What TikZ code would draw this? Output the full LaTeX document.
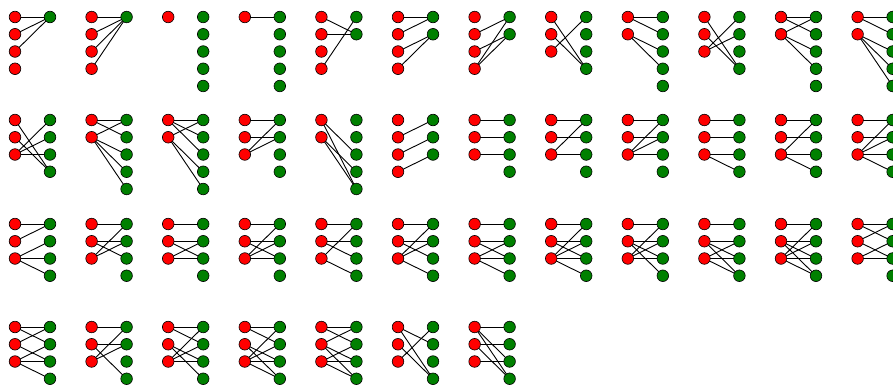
\documentclass[tikz,border=0pt]{standalone}
\usetikzlibrary{backgrounds}
\definecolor{nxred}{RGB}{255,0,0}
\definecolor{nxgreen}{RGB}{0,128,0}
\tikzset{
  rn/.style={circle,draw=black,fill=nxred,minimum size=11.6pt,inner sep=0pt,line width=0.6pt},
  gn/.style={circle,draw=black,fill=nxgreen,minimum size=11.6pt,inner sep=0pt,line width=0.6pt},
  ed/.style={draw=black,line width=0.9pt}
}
% #1 column, #2 row id, #3 top y, #4 number of red, #5 number of green, #6 edges red/green
\newcommand\bgraph[6]{%
  \foreach \i in {1,...,#4}
    \node[rn] (g#1x#2r\i) at ({15+76.6*#1},{#3+17.25*(\i-1)}) {};
  \foreach \j in {1,...,#5}
    \node[gn] (g#1x#2g\j) at ({50+76.6*#1},{#3+17.25*(\j-1)}) {};
  \ifx\relax#6\relax\else
  \begin{pgfonlayer}{background}
    \foreach \a/\b in {#6}
      \draw[ed] (g#1x#2r\a.center) -- (g#1x#2g\b.center);
  \end{pgfonlayer}
  \fi
}
\begin{document}
\begin{tikzpicture}[x=1pt,y=-1pt]
\useasboundingbox (0,0) rectangle (893,386);
% row 1
\bgraph{0}{a}{17}{4}{1}{1/1,2/1,3/1}
\bgraph{1}{a}{17}{4}{1}{1/1,2/1,3/1,4/1}
\bgraph{2}{a}{17}{1}{5}{}
\bgraph{3}{a}{17}{1}{5}{1/1}
\bgraph{4}{a}{17}{4}{2}{1/2,2/2,4/1}
\bgraph{5}{a}{17}{4}{2}{1/1,2/1,3/2,4/2}
\bgraph{6}{a}{17}{4}{2}{2/1,3/2,4/1,4/2}
\bgraph{7}{a}{17}{3}{4}{1/4,2/4,3/1}
\bgraph{8}{a}{17}{2}{5}{1/1,1/2,2/3,2/4}
\bgraph{9}{a}{17}{3}{4}{1/4,2/4,3/1,3/2}
\bgraph{10}{a}{17}{2}{5}{1/1,1/2,2/1,2/3,2/4}
\bgraph{11}{a}{17}{2}{5}{1/1,1/2,2/3,2/4,2/5}
% row 2
\bgraph{0}{b}{120}{3}{4}{1/4,2/4,3/1,3/2,3/3}
\bgraph{1}{b}{120}{2}{5}{1/1,1/2,2/1,2/3,2/4,2/5}
\bgraph{2}{b}{120}{2}{5}{1/1,1/2,1/3,2/1,2/4,2/5}
\bgraph{3}{b}{120}{3}{4}{1/1,2/2,3/1,3/2}
\bgraph{4}{b}{120}{2}{5}{1/3,1/5,2/4,2/5}
\bgraph{5}{b}{120}{4}{3}{2/1,3/2,4/3}
\bgraph{6}{b}{120}{3}{4}{1/1,2/2,3/3}
\bgraph{7}{b}{120}{3}{4}{1/1,2/2,3/3,3/1}
\bgraph{8}{b}{120}{3}{4}{1/1,2/2,3/1,3/2,3/3}
\bgraph{9}{b}{120}{3}{4}{1/1,2/2,3/3,3/4}
\bgraph{10}{b}{120}{3}{4}{1/1,2/2,3/1,3/3,3/4}
\bgraph{11}{b}{120}{3}{4}{1/1,2/2,3/1,3/2,3/3,3/4}
% row 3
\bgraph{0}{c}{224}{3}{4}{1/1,2/1,3/2,3/3,3/4}
\bgraph{1}{c}{224}{3}{4}{1/1,2/2,2/3,3/1,3/2}
\bgraph{2}{c}{224}{3}{4}{1/1,2/2,2/3,3/2,3/3}
\bgraph{3}{c}{224}{3}{4}{1/1,2/2,2/3,3/1,3/2,3/3}
\bgraph{4}{c}{224}{3}{4}{1/1,2/2,2/3,3/1,3/4}
\bgraph{5}{c}{224}{3}{4}{1/1,2/2,2/3,3/1,3/2,3/4}
\bgraph{6}{c}{224}{3}{4}{1/1,2/2,2/3,3/2,3/3,3/4}
\bgraph{7}{c}{224}{3}{4}{1/1,2/2,2/3,3/1,3/2,3/3,3/4}
\bgraph{8}{c}{224}{3}{4}{1/1,2/2,2/3,2/4,3/1,3/2,3/3}
\bgraph{9}{c}{224}{3}{4}{1/1,2/2,2/3,2/4,3/2,3/3,3/4}
\bgraph{10}{c}{224}{3}{4}{1/1,2/2,2/3,2/4,3/1,3/2,3/3,3/4}
\bgraph{11}{c}{224}{3}{4}{1/1,1/2,2/1,2/3,3/2,3/3}
% row 4
\bgraph{0}{d}{327}{3}{4}{1/1,1/2,2/1,2/3,3/2,3/3,3/4}
\bgraph{1}{d}{327}{3}{4}{1/1,2/2,2/4,3/1,3/2}
\bgraph{2}{d}{327}{3}{4}{1/1,1/2,2/3,2/4,3/1,3/2,3/3}
\bgraph{3}{d}{327}{3}{4}{1/1,1/2,2/3,2/4,3/1,3/2,3/3,3/4}
\bgraph{4}{d}{327}{3}{4}{1/1,1/2,2/1,2/3,2/4,3/2,3/3,3/4}
\bgraph{5}{d}{327}{3}{4}{1/2,1/4,2/4,3/1}
\bgraph{6}{d}{327}{3}{4}{1/1,1/3,1/4,2/2,2/4,3/3}
\end{tikzpicture}
\end{document}
